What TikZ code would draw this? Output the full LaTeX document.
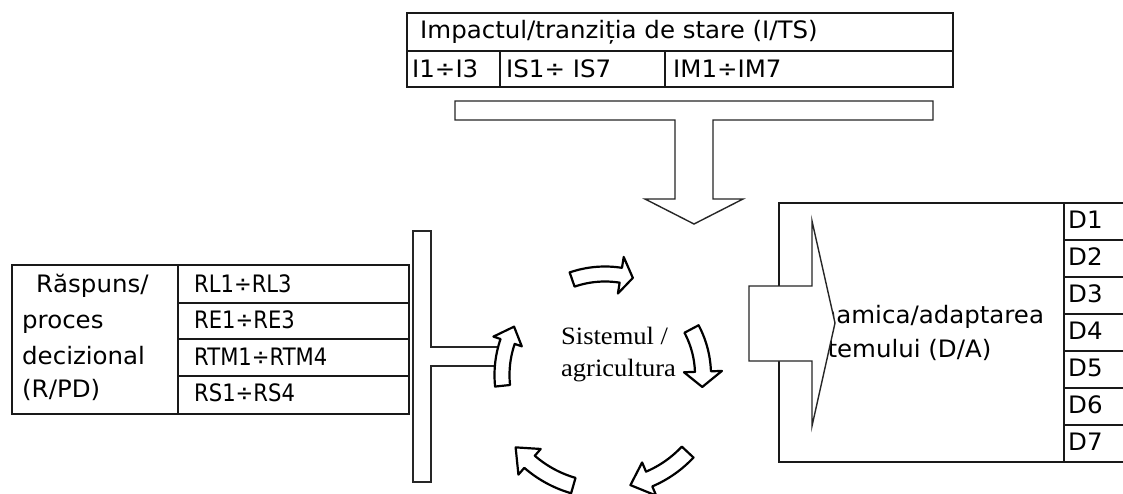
\documentclass[tikz,border=0pt]{standalone}
\usepackage{fontspec}
\setmainfont{DejaVu Sans}[FakeStretch=1.02]
\newfontfamily\codefont{DejaVu Sans}[FakeStretch=0.88]
\newfontfamily\sysfont{Liberation Serif}[FakeStretch=1.06]
\usetikzlibrary{calc}

\tikzset{
  frame/.style={draw=black!90, line width=1.4pt},
  blockarrow/.style={draw=black!85, line width=1.4pt, fill=white, line join=miter},
  cyc/.style={draw=black, line width=2.2pt, fill=white, line join=round},
  cell/.style={anchor=base west, inner sep=0pt, font=\fontsize{24}{28}\selectfont},
  code/.style={cell, font=\codefont\fontsize{24}{28}\selectfont},
  systxt/.style={anchor=base west, inner sep=0pt, font=\sysfont\fontsize{25}{30}\selectfont}
}

% curved block arrow around the centre of the cycle
% #1 radius, #2 start angle, #3 tip angle, #4 body width, #5 head width, #6 head length (deg)
\newcommand{\cyclearrow}[6]{%
  \pgfmathsetmacro\headbase{#3-#6}%
  \filldraw[cyc]
    plot[domain=#2:\headbase, samples=18] ({605+(#1+#4/2)*cos(\x)},{375+(#1+#4/2)*sin(\x)})
    -- ({605+(#1+#5/2)*cos(\headbase)},{375+(#1+#5/2)*sin(\headbase)})
    -- ({605+#1*cos(#3)},{375+#1*sin(#3)})
    -- ({605+(#1-#5/2)*cos(\headbase)},{375+(#1-#5/2)*sin(\headbase)})
    -- plot[domain=\headbase:#2, samples=18] ({605+(#1-#4/2)*cos(\x)},{375+(#1-#4/2)*sin(\x)})
    -- cycle;}

\begin{document}
\begin{tikzpicture}[x=1pt, y=-1pt]
\useasboundingbox[fill=white] (0,0) rectangle (1123,493);

% ---- impact / state transition table (top)
\draw[frame] (407,13) rectangle (953,87);
\draw[frame] (407,51) -- (953,51);
\draw[frame] (500,51) -- (500,87);
\draw[frame] (665,51) -- (665,87);
\node[cell] (its) at (420,38) {Impactul/tranziția de stare (I/TS)};
\node[cell] (i13) at (412,77) {I1÷I3};
\node[cell] (is17) at (506,77) {IS1÷ IS7};
\node[cell] (im17) at (673,77) {IM1÷IM7};

% ---- T-shaped arrow pointing down to the system
\draw[blockarrow] (455,101) -- (933,101) -- (933,120) -- (713,120) -- (713,199)
  -- (743,199) -- (694,224) -- (645,199) -- (675,199) -- (675,120) -- (455,120) -- cycle;

% ---- response / decision table (left)
\draw[frame] (12,265) rectangle (409,414);
\draw[frame] (178,265) -- (178,414);
\foreach \yy in {303,339,376} \draw[frame] (178,\yy) -- (409,\yy);
\node[cell] (rasp) at (36,292) {Răspuns/};
\node[cell] (proc) at (22,328) {proces};
\node[cell] (deciz) at (22,364) {decizional};
\node[cell] (rpd) at (22,397) {(R/PD)};
\node[code] (rl) at (194,292) {RL1÷RL3};
\node[code] (re) at (194,328) {RE1÷RE3};
\node[code] (rtm) at (194,365) {RTM1÷RTM4};
\node[code] (rs) at (194,401) {RS1÷RS4};

% ---- T-shaped bar feeding the system
\draw[blockarrow, fill=none] (505,347) -- (431,347) -- (431,231) -- (413,231) -- (413,482)
  -- (431,482) -- (431,366) -- (505,366);

% ---- dynamics / adaptation box (right)
\draw[frame] (1123,203) -- (779,203) -- (779,462) -- (1123,462);
\draw[frame] (1064,203) -- (1064,462);
\foreach \k in {1,...,6} \draw[frame] (1064,{203+37*\k}) -- (1123,{203+37*\k});
\foreach \k in {1,...,7} \node[cell] (d\k) at (1068,{191+37*\k}) {D\k};
\node[cell] (dyn1) at (795,323) {Dinamica/adaptarea};
\node[cell] (dyn2) at (795,357) {sistemului (D/A)};
\draw[blockarrow] (749,286) -- (812,286) -- (812,221) -- (835,323) -- (812,426)
  -- (812,361) -- (749,361) -- cycle;

% ---- the system and its cycle
\node[systxt] (sys1) at (561,344) {Sistemul /};
\node[systxt] (sys2) at (561,376) {agricultura};
\cyclearrow{101}{-109}{-74}{15}{37}{7}
\cyclearrow{98}{-28}{7}{16}{38}{9}
\cyclearrow{113}{43}{77}{16}{36}{10}
\cyclearrow{115}{106}{141}{16}{34}{10}
\cyclearrow{103}{174}{208}{15}{30}{9}
\end{tikzpicture}
\end{document}
